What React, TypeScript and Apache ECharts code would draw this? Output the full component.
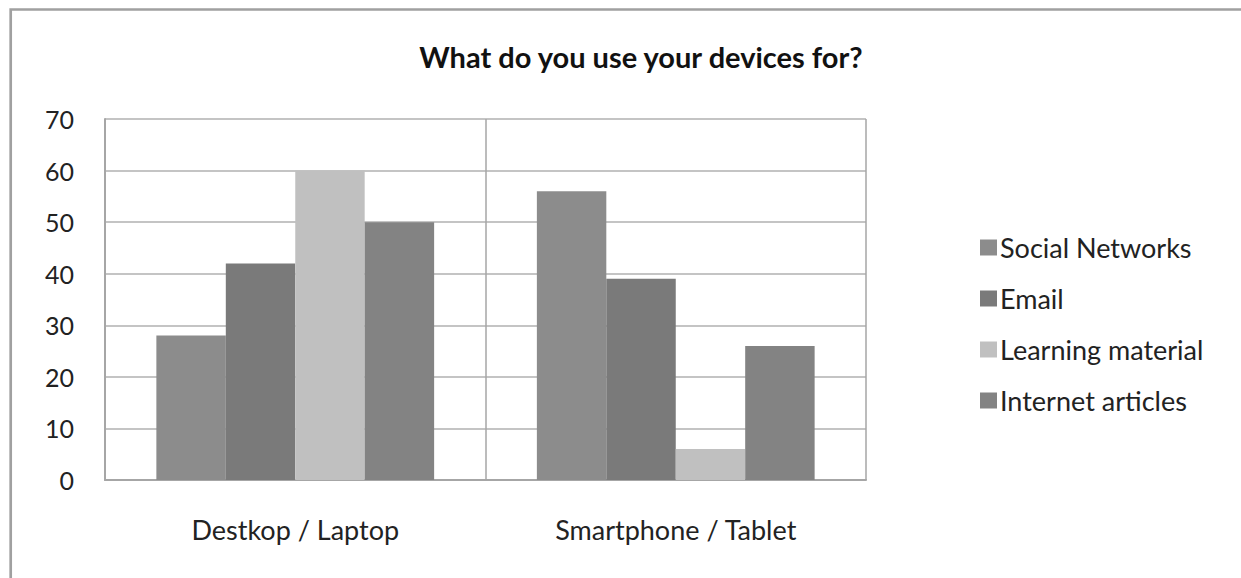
import React, { useEffect, useRef } from "react";
import * as echarts from "echarts";

const categories = ["Destkop / Laptop", "Smartphone / Tablet"];
const seriesNames = ["Social Networks", "Email", "Learning material", "Internet articles"];
const socialNetworks = [28, 56];
const email = [42, 39];
const learningMaterial = [60, 6];
const internetArticles = [50, 26];
const seriesValues = [socialNetworks, email, learningMaterial, internetArticles];
const seriesColors = ["#8c8c8c", "#7a7a7a", "#c0c0c0", "#838383"];
const yTicks = [0, 10, 20, 30, 40, 50, 60, 70];

export default function App() {
  const ref = useRef<HTMLDivElement>(null);
  useEffect(() => {
    if (!ref.current) return;
    const chart = echarts.init(ref.current, null, { renderer: "svg" });
    const font = "Lato, 'Open Sans', sans-serif";
    chart.setOption({
      animation: false,
      backgroundColor: "#ffffff",
      textStyle: { fontFamily: font },
      title: {
        text: "What do you use your devices for?",
        left: 636,
        top: 37,
        textAlign: "center",
        textStyle: { fontFamily: font, fontSize: 29, fontWeight: "bold", color: "#111111" },
      },
      graphic: [
        {
          type: "polyline",
          shape: { points: [[1241, 9.5], [10.7, 9.5], [10.7, 578]] },
          style: { fill: "none", stroke: "#a0a0a0", lineWidth: 2.7 },
          z: 101,
          silent: true,
        },
      ],
      legend: {
        orient: "vertical",
        left: 975,
        top: 229,
        itemWidth: 17,
        itemHeight: 16,
        itemGap: 24,
        icon: "rect",
        textStyle: {
          fontFamily: font,
          fontSize: 27,
          lineHeight: 27,
          color: "#222222",
          padding: [0, 0, 0, -2],
        },
        itemStyle: { borderWidth: 0 },
        data: seriesNames,
      },
      grid: { left: 105, right: 375, top: 119, bottom: 98, containLabel: false },
      xAxis: {
        type: "category",
        data: categories,
        axisLine: { show: true, lineStyle: { color: "#a6a6a6", width: 2 } },
        axisTick: { show: false },
        splitLine: { show: true, lineStyle: { color: "#a6a6a6", width: 1.5 } },
        axisLabel: { fontFamily: font, fontSize: 27, color: "#222222", margin: 36 },
      },
      yAxis: {
        type: "value",
        min: 0,
        max: 70,
        interval: 10,
        axisLine: { show: true, lineStyle: { color: "#a6a6a6", width: 2 } },
        axisTick: { show: false },
        splitLine: { show: true, lineStyle: { color: "#b0b0b0", width: 1.5 } },
        axisLabel: {
          fontFamily: font,
          fontSize: 25,
          color: "#222222",
          margin: 31,
          formatter: (v: number) => (yTicks.includes(v) ? String(v) : ""),
        },
      },
      series: seriesNames.map((name, i) => ({
        name,
        type: "bar",
        data: seriesValues[i],
        barGap: "0%",
        barCategoryGap: "27%",
        itemStyle: { color: seriesColors[i] },
      })),
    });
    return () => chart.dispose();
  }, []);
  return (
    <div
      ref={ref}
      style={{ position: "absolute", left: 0, top: 0, width: 1241, height: 578, overflow: "hidden" }}
    />
  );
}
